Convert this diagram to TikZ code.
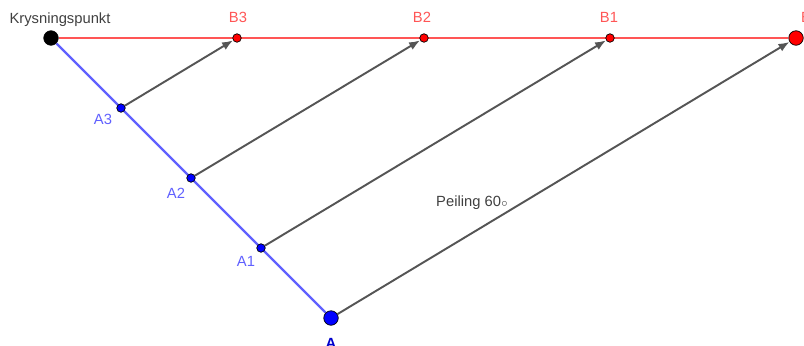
\documentclass[tikz,border=0pt]{standalone}
\usepackage{fontspec}
\setmainfont{Liberation Sans}
\usepackage{xcolor}
\usetikzlibrary{arrows.meta,backgrounds}

\definecolor{peilred}{HTML}{FF5555}
\definecolor{peilblue}{HTML}{6060FF}
\definecolor{peilgray}{HTML}{555555}

\tikzset{
  smalldot/.style={circle,draw=black,line width=0.4pt,inner sep=0pt,minimum size=0.17cm},
  bigdot/.style={circle,draw=black,line width=0.4pt,inner sep=0pt,minimum size=0.29cm},
  peilarrow/.style={draw=peilgray,line width=1.1pt,-{Latex[length=2.2mm,width=1.7mm]}},
  lbl/.style={font=\fontsize{8.4}{9}\selectfont,inner sep=0pt}
}

\begin{document}
\begin{tikzpicture}[x=0.02cm,y=-0.02cm]
            \useasboundingbox (0,0) rectangle (804,345);

            % punkter
            \node[bigdot,fill=black] (K) at (51,38) {};
            \node[smalldot,fill=red] (B3) at (237,38) {};
            \node[smalldot,fill=red] (B2) at (424,38) {};
            \node[smalldot,fill=red] (B1) at (610,38) {};
            \node[bigdot,fill=red] (B) at (796,38) {};
            \node[smalldot,fill=blue] (A3) at (121,108) {};
            \node[smalldot,fill=blue] (A2) at (191,178) {};
            \node[smalldot,fill=blue] (A1) at (261,248) {};
            \node[bigdot,fill=blue] (A) at (331,318) {};

            \begin{scope}[on background layer]
              \draw[peilred,line width=1.1pt] (K) -- (B);
              \draw[peilblue,line width=1.3pt] (K) -- (A);
            \end{scope}

            \draw[peilarrow] (A3) -- (B3);
            \draw[peilarrow] (A2) -- (B2);
            \draw[peilarrow] (A1) -- (B1);
            \draw[peilarrow] (A) -- (B);

            % tekster
            \node[lbl,text=black!75] (lK) at (60,20) {Krysningspunkt};
            \node[lbl,text=peilred] (lB3) at (238,17) {B3};
            \node[lbl,text=peilred] (lB2) at (422,17) {B2};
            \node[lbl,text=peilred] (lB1) at (609,17) {B1};
            \node[lbl,text=peilred] (lB) at (806,17) {B};
            \node[lbl,text=peilblue] (lA3) at (103,119) {A3};
            \node[lbl,text=peilblue] (lA2) at (176,193) {A2};
            \node[lbl,text=peilblue] (lA1) at (246,261) {A1};
            \node[lbl,text=blue!80!black,font=\fontsize{8.4}{9}\selectfont\bfseries] (lA) at (331,343) {A};
            \node[lbl,text=black!75] (lP) at (472,203) {Peiling 60$\scriptstyle\circ$};
        \end{tikzpicture}
\end{document}
